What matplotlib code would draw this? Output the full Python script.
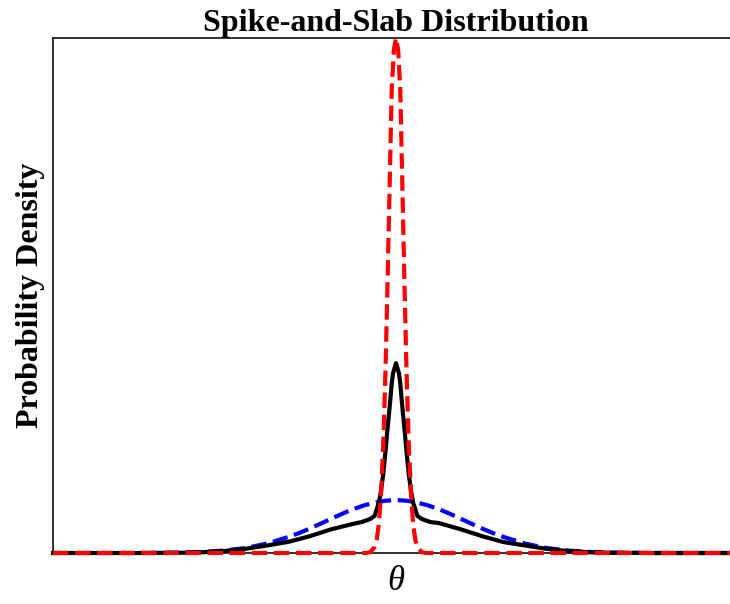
import matplotlib
matplotlib.use("Agg")
import matplotlib.pyplot as plt

# theta positions and densities for each curve
theta_slab = [-4.0, -3.0, -2.5, -2.25, -2.0, -1.75, -1.5, -1.25, -1.125, -1.0, -0.875, -0.75,
              -0.625, -0.5, -0.375, -0.25, -0.125, 0.0, 0.125, 0.25, 0.375, 0.5, 0.625,
              0.75, 0.875, 1.0, 1.125, 1.25, 1.5, 1.75, 2.0, 2.25, 2.5, 3.0, 4.0]
dens_slab = [0.0, 0.0, 0.003, 0.008, 0.019, 0.038, 0.072, 0.122, 0.152, 0.186, 0.223, 0.260,
             0.297, 0.331, 0.359, 0.381, 0.395, 0.400, 0.395, 0.381, 0.359, 0.331, 0.297,
             0.260, 0.223, 0.186, 0.152, 0.122, 0.072, 0.038, 0.019, 0.008, 0.003, 0.0, 0.0]

theta_spike = [-4.0, -0.35, -0.3, -0.25, -0.225, -0.2, -0.175, -0.15, -0.125, -0.1, -0.075,
               -0.05, -0.025, 0.0, 0.025, 0.05, 0.075, 0.1, 0.125, 0.15, 0.175, 0.2, 0.225,
               0.25, 0.3, 0.35, 4.0]
dens_spike = [0.0, 0.0, 0.006, 0.045, 0.10, 0.22, 0.44, 0.80, 1.32, 2.0, 2.75,
              3.5, 3.80, 3.89, 3.80, 3.5, 2.75, 2.0, 1.32, 0.80, 0.44, 0.22, 0.10,
              0.045, 0.006, 0.0, 0.0]

theta_mix = [-4.0, -3.0, -2.5, -2.25, -2.0, -1.75, -1.5, -1.25, -1.0, -0.75, -0.5, -0.4,
             -0.3, -0.25, -0.2, -0.175, -0.15, -0.125, -0.1, -0.07, -0.05, -0.035, 0.0,
             0.035, 0.05, 0.07, 0.1, 0.125, 0.15, 0.175, 0.2, 0.25, 0.3, 0.4, 0.5, 0.75,
             1.0, 1.25, 1.5, 1.75, 2.0, 2.25, 2.5, 3.0, 4.0]
dens_mix = [0.0, 0.0, 0.002, 0.006, 0.015, 0.032, 0.057, 0.085, 0.128, 0.18, 0.22, 0.234,
            0.257, 0.28, 0.38, 0.47, 0.59, 0.75, 0.93, 1.13, 1.28, 1.356, 1.434,
            1.356, 1.28, 1.13, 0.93, 0.75, 0.59, 0.47, 0.38, 0.28, 0.257, 0.234, 0.226, 0.18,
            0.128, 0.083, 0.057, 0.032, 0.015, 0.006, 0.002, 0.0, 0.0]

fig = plt.figure(figsize=(7.3, 6.04), dpi=100)
ax = fig.add_axes([53 / 730, 51 / 604, 686 / 730, 515 / 604])

ax.plot(theta_slab, dens_slab, color="blue", lw=3, ls="--", clip_on=False)
ax.plot(theta_mix, dens_mix, color="black", lw=3, clip_on=False, zorder=3)
ax.plot(theta_spike, dens_spike, color="red", lw=3, ls="--", clip_on=False, zorder=4)

ax.set_xlim(-4, 4)
ax.set_ylim(0, 3.89)
ax.set_xticks([])
ax.set_yticks([])
for s in ax.spines.values():
    s.set_linewidth(1.3)
    s.set_color("#222222")

ax.set_title("Spike-and-Slab Distribution", family="Liberation Serif",
             fontweight="bold", fontsize=23, pad=5)
ax.set_ylabel("Probability Density", family="Liberation Serif",
              fontweight="bold", fontsize=23, labelpad=6)
ax.set_xlabel("θ", family="Liberation Serif", style="italic", fontsize=25, labelpad=9)

fig.savefig("out.png", dpi=100)
